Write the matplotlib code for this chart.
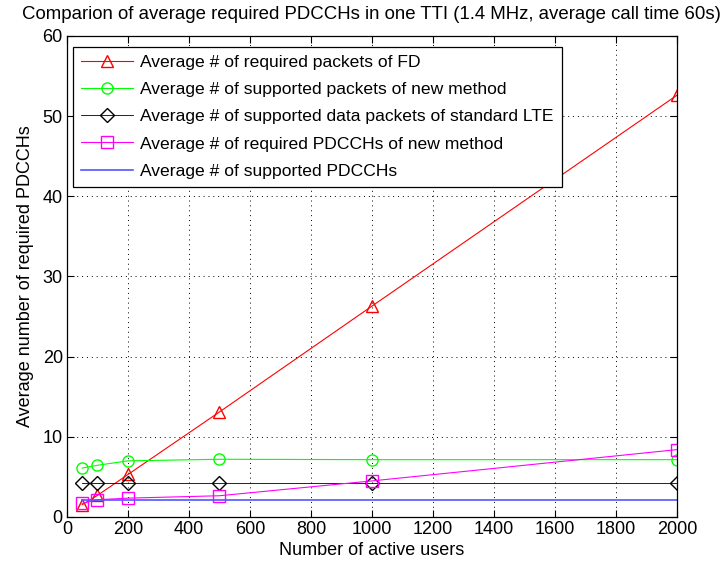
import matplotlib
matplotlib.use("Agg")
import matplotlib.pyplot as plt
import numpy as np

plt.rcParams['font.family'] = ['Liberation Sans', 'DejaVu Sans']

users = [50, 100, 200, 500, 1000, 2000]
fd_required = [1.55, 2.7, 5.3, 13.1, 26.3, 52.6]
new_supported = [6.1, 6.45, 7.0, 7.2, 7.15, 7.15]
lte_supported = [4.2, 4.2, 4.2, 4.2, 4.2, 4.2]
new_pdcch = [1.7, 2.15, 2.35, 2.65, 4.5, 8.4]
pdcch_supported = [2.1, 2.1, 2.1, 2.1, 2.1, 2.1]

labels = ['Average # of required packets of FD',
          'Average # of supported packets of new method',
          'Average # of supported data packets of standard LTE',
          'Average # of required PDCCHs of new method',
          'Average # of supported PDCCHs']

fs = 13
fig = plt.figure(figsize=(7.24, 5.70), dpi=100)
ax = fig.add_axes([0.0925, 0.093, 0.8425, 0.844])

ax.plot(users, fd_required, color='r', marker='^', ms=9, mfc='none', lw=0.8, label=labels[0])
ax.plot(users, new_supported, color='#00ff00', marker='o', ms=8, mfc='none', lw=0.8, label=labels[1])
ax.plot(users, lte_supported, color='k', marker='D', ms=7, mfc='none', lw=0.6, label=labels[2])
ax.plot(users, new_pdcch, color='#ff00ff', marker='s', ms=8, mfc='none', lw=0.8, label=labels[3])
ax.plot(users, pdcch_supported, color='#5555ff', lw=1.2, label=labels[4])

ax.set_xlim(0, 2000)
ax.set_ylim(0, 60)
ax.set_xticks(np.arange(0, 2001, 200))
ax.set_yticks(np.arange(0, 61, 10))
ax.tick_params(direction='in', length=5, labelsize=fs, top=True, right=True, width=0.8, pad=3)
ax.grid(True, linestyle=(0, (1, 4)), color='k', linewidth=0.7)
for s in ax.spines.values():
    s.set_linewidth(0.9)

ax.set_xlabel('Number of active users', fontsize=fs, labelpad=3)
ax.set_ylabel('Average number of required PDCCHs', fontsize=fs, labelpad=6)
fig.text(0.513, 0.974, 'Comparion of average required PDCCHs in one TTI (1.4 MHz, average call time 60s)',
         fontsize=13.45, ha='center', va='center')

leg = ax.legend(loc='upper left', bbox_to_anchor=(0.0098, 0.977), borderaxespad=0,
                fontsize=12.6, fancybox=False, edgecolor='k', framealpha=1,
                handlelength=3.0, handletextpad=0.4, labelspacing=0.68, borderpad=0.45)
leg.get_frame().set_linewidth(0.9)

fig.savefig("out.png", dpi=100)
